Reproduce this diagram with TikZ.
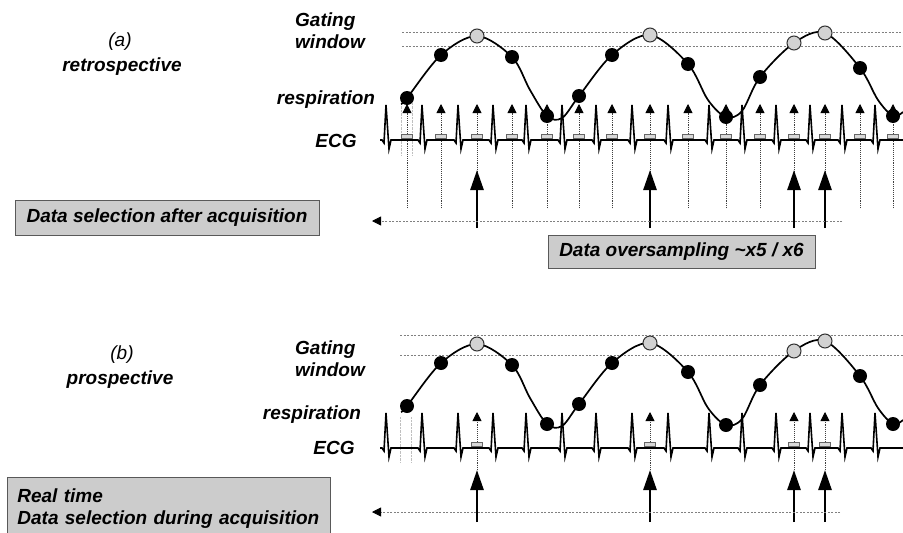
\documentclass[tikz,border=0pt]{standalone}
\usepackage{fontspec}
\setmainfont{Liberation Sans}
\usetikzlibrary{arrows.meta}

\tikzset{
  lbl/.style={font=\fontsize{19}{22}\selectfont\bfseries\itshape, inner sep=0pt},
  tag/.style={font=\fontsize{19}{22}\selectfont\itshape, inner sep=0pt},
  infobox/.style={lbl, draw=gray!70!black, fill=gray!40, line width=0.8pt},
  gateline/.style={gray, dash pattern=on 2pt off 1.5pt, line width=0.8pt},
  sample/.style={densely dotted, gray!50!black, line width=0.9pt},
  trig/.style={sample, -{Triangle[length=9pt,width=9pt,color=black]}},
  select/.style={line width=2.6pt, -{Triangle[length=20pt,width=13pt]}},
  back/.style={gray, dash pattern=on 2pt off 1.5pt, line width=0.8pt, -{Triangle[length=9pt,width=9pt,color=black]}},
  breath/.style={line width=1.7pt},
  ecg/.style={line width=1.6pt, line join=miter},
  hit/.style={circle, fill=black, minimum size=14pt, inner sep=0pt},
  inwin/.style={circle, draw=black!80, fill=gray!35, line width=1pt, minimum size=14pt, inner sep=0pt},
  slot/.style={draw=gray!80!black, fill=gray!30, line width=0.6pt, minimum width=11pt, minimum height=4.5pt, inner sep=0pt}
}

% ECG trace, respiration curve and its samples
\newcommand{\respecg}[1]{%
  \draw[ecg] (380,140) foreach \rp in {387,423,459,494,527,563,597,633,669,710,743,777,811,843,876}
    { -- (\rp-5,140) -- (\rp-3,143) -- (\rp-1,105) -- (\rp+2,149) -- (\rp+4,140) } -- (903,140);
  \draw[breath] plot[smooth,tension=0.55] coordinates {(401,104) (407,98) (441,55) (477,36) (512,57)
    (530,90) (547,116) (562,118) (579,96) (612,55) (650,35) (688,64) (708,100) (726,117) (742,111)
    (760,77) (794,43) (825,33) (860,68) (878,100) (893,116) (903,112)};
  \foreach \x/\y/\s [count=\i] in {407/98/hit,441/55/hit,477/36/inwin,512/57/hit,547/116/hit,
    579/96/hit,612/55/hit,650/35/inwin,688/64/hit,726/117/hit,760/77/hit,794/43/inwin,
    825/33/inwin,860/68/hit,893/116/hit}
    \node[\s] (#1dot\i) at (\x,\y) {};
}

\begin{document}
\begin{tikzpicture}[x=1pt,y=-1pt]
  \useasboundingbox (0,0) rectangle (903,533);

  % (a) retrospective
  \node[tag] (taga) at (120,42) {(a)};
  \node[lbl] (kinda) at (122,67) {retrospective};
  \node[lbl, align=left, anchor=west] (gatea) at (295,31) {Gating\\window};
  \node[lbl] (respa) at (326,100) {respiration};
  \node[lbl] (ecga) at (336,141) {ECG};
  \draw[gateline] (402,32) -- (903,32);
  \draw[gateline] (402,46) -- (903,46);
  \draw[gray!50, densely dotted] (401,100) -- (401,155);
  \draw[gray!50, densely dotted] (412,100) -- (412,155);
  \foreach \x [count=\i] in {407,441,477,512,547,579,612,650,688,726,760,794,825,860,893} {
    \coordinate (sa\i) at (\x,208);
    \coordinate (ta\i) at (\x,104);
    \draw[trig] (sa\i) -- (ta\i);
    \node[slot] (qa\i) at (\x,136.5) {};
  }
  \respecg{a}
  \foreach \x [count=\i] in {477,650,794,825} {
    \coordinate (fa\i) at (\x,228);
    \coordinate (ha\i) at (\x,170);
    \draw[select] (fa\i) -- (ha\i);
  }
  \coordinate (enda) at (842,221);
  \coordinate (tipa) at (372,221);
  \draw[back] (enda) -- (tipa);
  \node[infobox, minimum width=304pt, minimum height=35pt] (afterbox) at (167,217.5)
    {Data selection after acquisition};
  \node[infobox, minimum width=267pt, minimum height=33pt] (overbox) at (681.5,251.5)
    {Data oversampling \textasciitilde x5 / x6};

  % (b) prospective
  \node[tag] (tagb) at (122,355) {(b)};
  \node[lbl] (kindb) at (120,380) {prospective};
  \node[lbl, align=left, anchor=west] (gateb) at (295,359) {Gating\\window};
  \node[lbl] (respb) at (312,415) {respiration};
  \node[lbl] (ecgb) at (334,448) {ECG};
  \draw[gateline] (400,335) -- (903,335);
  \draw[gateline] (400,355) -- (903,355);
  \begin{scope}[yshift=-308pt]
    \draw[gray!50, densely dotted] (400,109) -- (400,155);
    \draw[gray!50, densely dotted] (411,109) -- (411,155);
    \foreach \x [count=\i] in {477,650,794,825} {
      \coordinate (sb\i) at (\x,162);
      \coordinate (tb\i) at (\x,104);
      \draw[trig] (sb\i) -- (tb\i);
      \node[slot] (qb\i) at (\x,136.5) {};
    }
    \respecg{b}
  \end{scope}
  \foreach \x [count=\i] in {477,650,794,825} {
    \coordinate (fb\i) at (\x,522);
    \coordinate (hb\i) at (\x,470);
    \draw[select] (fb\i) -- (hb\i);
  }
  \coordinate (endb) at (840,512);
  \coordinate (tipb) at (372,512);
  \draw[back] (endb) -- (tipb);
  \node[infobox, anchor=north west, align=left, text width=303pt, inner xsep=10pt, inner ysep=11pt]
    (realbox) at (7,477) {Real time\\Data selection during acquisition};
\end{tikzpicture}
\end{document}
